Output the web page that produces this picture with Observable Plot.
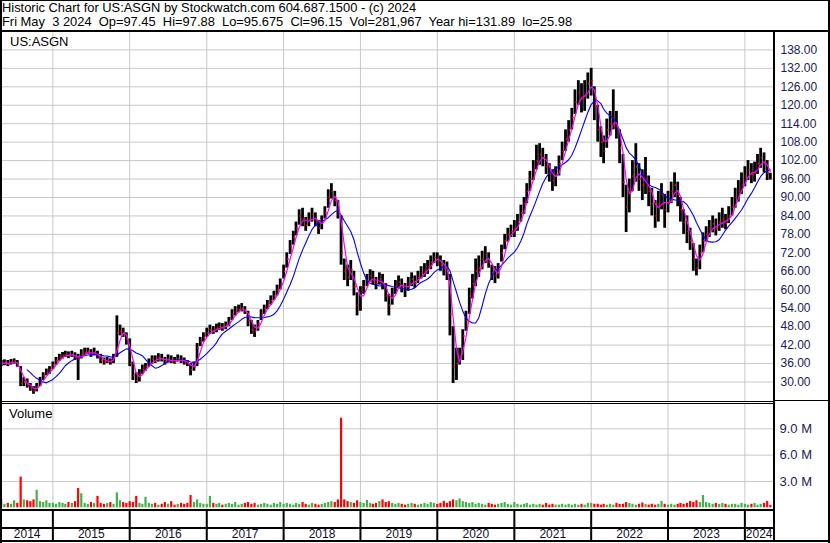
<!DOCTYPE html>
<html><head><meta charset="utf-8">
<script src="https://cdn.jsdelivr.net/npm/d3@7"></script>
<script src="https://cdn.jsdelivr.net/npm/@observablehq/plot@0.6"></script>
<style>
body{margin:0;background:#fff;}
#wrap{position:relative;width:830px;height:543px;overflow:hidden;background:#fff;font-family:"Liberation Sans",Arial,sans-serif;}
.ln{position:absolute;background:#000;}
.lbl{position:absolute;font-size:13px;line-height:13px;color:#000;white-space:pre;}
#hdr{position:absolute;left:2px;top:1px;font-size:12.9px;line-height:14px;white-space:pre;color:#000;}
.pl{position:absolute;left:0;}
.pl svg{display:block;}
</style></head><body>
<div id="wrap">
<div id="hdr">Historic Chart for US:ASGN by Stockwatch.com 604.687.1500 - (c) 2024
Fri May  3 2024  Op=97.45  Hi=97.88  Lo=95.675  Cl=96.15  Vol=281,967  Year hi=131.89  lo=25.98</div>
<div id="price" class="pl" style="top:32px"></div>
<div id="vol" class="pl" style="top:404px"></div>
<div id="yrs" class="pl" style="top:511px"></div>
<div class="lbl" style="left:10px;top:35px">US:ASGN</div>
<div class="lbl" style="left:9px;top:407px">Volume</div>
<div class="ln" style="left:0;top:0;width:830px;height:1px"></div>
<div class="ln" style="left:0;top:0;width:2px;height:543px"></div>
<div class="ln" style="left:828px;top:0;width:2px;height:543px"></div>
<div class="ln" style="left:0;top:30px;width:830px;height:2px"></div>
<div class="ln" style="left:773px;top:31px;width:2px;height:511px"></div>
<div class="ln" style="left:0;top:401px;width:773px;height:1px"></div>
<div class="ln" style="left:0;top:403px;width:773px;height:1px"></div>
<div class="ln" style="left:775px;top:400px;width:55px;height:1px"></div>
<div class="ln" style="left:0;top:509px;width:773px;height:2px"></div>
<div class="ln" style="left:0;top:527px;width:773px;height:2px"></div>
<div class="ln" style="left:0;top:540px;width:830px;height:2px"></div>
</div>
<script>
// semi-monthly points, May 2014 .. May 2024
const closes = [
 36.0,36.3,35.8,36.5,36.8,35.5,29.5,30.0,29.0,28.0,27.0,28.5,30.5,32.0,33.0,34.0,
 35.5,37.0,38.0,38.5,39.0,38.5,39.0,38.0,37.5,39.0,39.5,40.0,39.0,39.5,38.5,37.0,36.5,37.0,36.5,38.0,46.0,46.5,45.5,44.0,
 36.0,32.0,30.5,32.5,34.0,35.0,36.0,37.5,37.0,38.0,37.5,36.5,37.5,37.0,36.5,37.5,37.0,36.5,36.0,34.0,35.0,41.0,43.0,44.5,
 46.0,47.0,46.5,47.5,48.0,47.5,48.5,49.5,52.0,53.0,53.5,54.0,53.0,50.0,47.0,46.5,49.0,52.0,54.0,55.0,56.5,58.0,60.0,62.0,
 66.0,70.0,74.0,77.0,80.0,84.0,83.0,81.0,83.0,84.5,82.5,80.0,82.0,85.0,90.0,92.0,89.0,86.0,72.0,66.0,64.0,66.5,61.0,55.0,
 58.0,61.0,63.0,64.5,63.0,62.0,63.5,62.0,58.0,55.0,58.5,61.0,62.5,61.0,60.0,62.0,63.5,62.0,64.0,65.5,66.0,67.5,69.0,70.5,
 70.0,68.0,67.0,66.0,52.0,35.0,36.0,38.5,45.0,50.0,58.0,62.0,66.0,67.0,70.0,71.5,69.0,65.5,64.5,66.0,72.0,76.0,78.0,79.0,
 80.0,82.0,85.0,88.0,92.0,96.0,99.0,102.0,104.0,103.0,100.0,98.0,95.5,97.0,101.0,105.0,109.0,112.0,116.0,121.0,124.0,122.0,123.0,127.0,
 128.0,120.0,112.0,108.0,105.0,112.0,114.0,116.0,113.0,106.0,95.0,87.0,92.0,97.0,100.0,96.0,94.0,96.0,92.0,88.0,84.0,88.0,91.0,86.0,
 88.0,92.0,94.0,91.0,86.0,82.0,79.0,76.0,70.0,67.0,72.0,76.0,78.0,80.0,81.5,80.0,82.0,83.0,81.5,84.0,87.0,90.0,92.0,94.0,
 97.0,99.0,97.5,98.0,101.0,103.0,101.0,98.0,96.15
];
const highs = [
 37,37.2,37,37.3,37.5,37,35,31.5,31,29.5,28.5,29.5,31.5,33,34.2,35,
 36.5,38,39,39.6,40,39.8,40,39.5,39,40.5,41,41,40.5,41,40,39,37.8,38,37.5,39,51.5,48.5,47.5,46,
 44,36.5,33,34,35.5,36,37.5,38.5,38.5,39.2,39,38,38.8,38.5,38,38.8,38.5,37.8,37,36,36.5,42.5,44.5,46,
 47.5,48.5,48,48.8,49.2,49,49.5,51,53.5,54.5,55,55.5,54.5,53,50,48.5,50,53.5,55,56.5,58,59.5,61.5,63.5,
 68,72,76,79,82,86,86.5,83.5,85,86.5,85,82.5,84,87,92.5,94.5,92,89,84,70,68,69.5,66,59,
 61,63,65,66.5,66,64,65.5,65,62,58.5,60.5,63,64.5,63.5,62,64,65.5,64.5,66,67.5,68.5,69.5,71,72,
 72,71,69.5,69,65,48,41,41,47,53,60.5,65,70,71,72.5,74,72,68,67.5,68.5,74.5,78,80,81,
 82.5,84.5,87.5,90,94.5,98.5,102,107,107.5,106,104,101,99,100,103.5,108,112,115,119,125,128,127,128,130.5,
 132,126,120,113,110,115.5,118,125,118,112,104,94,96,102,107.5,101,99,103,97,93,89,92,94.5,91,
 92,95,98,95,90,86,84,80,75,70,74.5,78.5,80.5,82.5,84,83,85,86.5,84.5,87,90,93,95.5,98,
 100,102,101,101.5,104,106,104.5,102,97.88
];
const lows = [
 35,35.3,35,35.5,35.8,34.8,28.5,28.5,28,27,26,26.8,28.5,30.5,32,32.5,
 34,35.5,36.8,37.5,38,37.6,38,37,30.5,37.5,38.5,39,38,38.5,37.5,36,35.5,36,35.5,36,38,45,44.5,42,
 35,30.5,29.5,30,32.5,33.5,34.8,35.8,36,36.5,36.5,35.5,36.2,36,35.8,36.5,36,35.5,35,32,33.5,35,41.5,43,
 44.5,45.5,45.5,46,46.8,46.5,47,48,50,51.5,52.5,52.8,52,48,45.5,44.5,46.5,50,52,53.5,55,56.5,58,60,
 63.5,67,71.5,74.5,77.5,81,80.5,79,80.5,82,80.5,78,79.5,83,86.5,89.5,87,83,68,63,61,63,58,51.5,
 53,58.5,61,62.5,61.5,60,61.5,60,56,51.5,55,58.5,60.5,59,57.5,59.5,61,60.5,62,63.5,64,65,66.5,68.5,
 67.5,66,64.5,63,45,29.5,30.5,35.5,37,46.5,52,57,61,64,66.5,68.5,67,63,62,63.5,69,73,75.5,77,
 77,79,82,84.5,88,92,95.5,99,100.5,100,97.5,95,92,93.5,97,102,105,108,112,117,120,117.5,118,122,
 123,115,108,103,101,106,110,112,109,101,90,78.6,85,92,95,92,89,91,87,84,80,82,86,80,
 85,88,90,87,82,78,75,72.8,66,64.5,66.5,72,75.5,77,78.5,77.5,79,80,79.5,81.5,84,86.5,88.5,91,
 93.5,95.5,94.5,95,97.5,99.5,98,95.5,95.675
];
// typical daily volume, millions
const volumes = [
 0.9,0.4,0.5,0.4,0.8,0.5,3.5,0.9,0.8,0.7,0.9,2.0,0.7,0.6,0.8,0.5,
 0.5,0.4,0.6,0.5,0.4,0.6,0.5,0.7,2.2,1.6,0.5,0.4,0.6,0.5,1.3,0.5,0.4,0.5,0.6,0.4,1.7,0.8,0.6,0.5,
 0.7,0.6,1.3,0.5,0.4,1.2,0.5,0.4,0.5,0.3,0.4,0.6,0.4,0.7,0.3,0.4,0.5,0.4,0.5,1.4,0.6,0.9,0.5,0.4,
 0.4,1.3,0.5,0.4,0.5,0.3,0.4,0.5,0.4,0.6,0.3,0.4,0.5,0.6,0.4,0.5,0.3,0.4,0.5,0.4,0.3,0.5,0.4,0.6,
 0.4,0.5,0.4,0.3,0.5,0.4,0.6,0.4,0.3,0.5,0.4,0.3,0.4,0.5,0.6,0.7,0.6,0.9,10.2,0.9,0.7,0.6,0.5,0.8,
 0.6,0.5,0.85,0.5,0.4,0.5,0.73,0.9,0.6,0.7,0.5,0.4,0.5,0.4,0.3,0.4,0.5,0.4,0.3,0.4,0.5,0.4,0.6,0.5,
 0.4,0.5,0.73,0.5,0.7,0.9,0.8,1.0,0.7,0.6,0.5,0.6,0.4,0.5,0.4,0.3,0.5,0.4,0.3,0.4,0.5,0.6,0.4,0.3,
 0.6,0.4,0.3,0.4,0.5,0.3,0.4,0.3,0.4,0.3,0.5,0.3,0.4,0.3,0.3,0.4,0.3,0.4,0.3,0.4,0.3,0.4,0.3,0.5,
 0.5,0.4,0.4,0.3,0.4,0.3,0.4,0.3,0.5,0.4,0.4,0.6,0.5,0.4,0.3,0.4,0.55,0.4,0.3,0.4,0.3,0.4,0.73,0.4,
 0.3,0.4,0.3,0.4,0.5,0.4,0.5,0.73,0.6,0.8,0.6,1.4,0.6,0.5,0.4,0.5,0.4,0.5,0.4,0.3,0.4,0.4,0.3,0.5,
 0.4,0.3,0.4,0.5,0.3,0.4,0.5,0.73,0.28
];
const years = [2014,2015,2016,2017,2018,2019,2020,2021,2022,2023,2024];
const priceTicks = [30,36,42,48,54,60,66,72,78,84,90,96,102,108,114,120,126,132,138];
const volTicks = [3,6,9];

const n = Math.min(closes.length, highs.length, lows.length, volumes.length);
const rows = d3.range(n).map(i => ({
  date: new Date(Date.UTC(2014, 4 + Math.floor(i / 2), i % 2 ? 16 : 1)),
  close: closes[i], high: highs[i], low: lows[i], vol: volumes[i],
  up: i === 0 || closes[i] >= closes[i - 1]
}));
const x0 = new Date(Date.UTC(2014, 4, 2)), x1 = new Date(Date.UTC(2024, 4, 16));
const xs = {type: "utc", domain: [x0, x1], axis: null};
const yearStarts = years.slice(1).map(y => new Date(Date.UTC(y, 0, 1)));
const yearLabels = years.map(y => {
  const a = Math.max(Date.UTC(y, 0, 1), +x0), b = Math.min(Date.UTC(y + 1, 0, 1), +x1);
  return {mid: new Date((a + b) / 2), label: String(y)};
});
const font = "'Liberation Sans', Arial, sans-serif";

const price = Plot.plot({
  width: 830, height: 369, marginLeft: 1, marginRight: 57, marginTop: 0, marginBottom: 0,
  x: xs,
  y: {domain: [30, 138], range: [349.5, 17.4], label: null},
  style: {fontFamily: font, fontSize: "12px", color: "#1a1a5e", background: "transparent", overflow: "visible"},
  marks: [
    Plot.gridY(priceTicks, {stroke: "#c8c8c8", strokeOpacity: 1}),
    Plot.ruleX(yearStarts, {stroke: "#c8c8c8"}),
    Plot.ruleX(rows, {x: "date", y1: "low", y2: "high", stroke: "#000", strokeWidth: 2.8}),
    Plot.dot(rows, {x: "date", y: "close", r: 0.9, fill: "#ff0000", dx: 1}),
    Plot.lineY(rows, Plot.windowY({k: 9, anchor: "end", strict: true}, {x: "date", y: "close", stroke: "#0000ff", strokeWidth: 1.1})),
    Plot.lineY(rows, Plot.windowY({k: 3, anchor: "end"}, {x: "date", y: "close", stroke: "#ff00ff", strokeWidth: 1.2})),
    Plot.axisY(priceTicks, {anchor: "right", label: null, tickSize: 0, tickPadding: 7, tickFormat: d => d.toFixed(2), fontSize: 12})
  ]
});
document.getElementById("price").append(price);

const vol = Plot.plot({
  width: 830, height: 106, marginLeft: 1, marginRight: 57, marginTop: 0, marginBottom: 0,
  x: xs,
  y: {domain: [0, 9], range: [103.3, 24.3], label: null},
  style: {fontFamily: font, fontSize: "13px", color: "#1a1a5e", background: "transparent", overflow: "visible"},
  marks: [
    Plot.gridY(volTicks, {stroke: "#c8c8c8", strokeOpacity: 1}),
    Plot.ruleX(yearStarts, {stroke: "#c8c8c8"}),
    Plot.ruleX(rows.filter(d => d.up), {x: "date", y1: 0, y2: "vol", stroke: "#44b04a", strokeWidth: 2.2}),
    Plot.ruleX(rows.filter(d => !d.up), {x: "date", y1: 0, y2: "vol", stroke: "#ff0000", strokeWidth: 2.2}),
    Plot.axisY(volTicks, {anchor: "right", label: null, tickSize: 0, tickPadding: 6, tickFormat: d => d.toFixed(1) + " M", fontSize: 13})
  ]
});
document.getElementById("vol").append(vol);

const yrs = Plot.plot({
  width: 830, height: 29, marginLeft: 1, marginRight: 57, marginTop: 0, marginBottom: 0,
  x: xs,
  style: {fontFamily: font, fontSize: "12px", color: "#10102e", background: "transparent", overflow: "visible"},
  marks: [
    Plot.ruleX(yearStarts, {stroke: "#000", strokeWidth: 2}),
    Plot.text(yearLabels, {x: "mid", text: "label", dy: 8, fontSize: 12, fill: "#10102e"})
  ]
});
document.getElementById("yrs").append(yrs);
</script>
</body></html>
